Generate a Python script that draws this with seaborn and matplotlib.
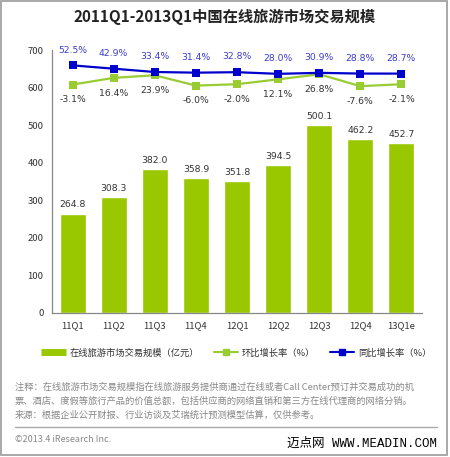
import numpy as np
import pandas as pd
import seaborn as sns
import matplotlib.pyplot as plt
from matplotlib.lines import Line2D
from matplotlib.patches import Rectangle

quarters = ['11Q1', '11Q2', '11Q3', '11Q4', '12Q1', '12Q2', '12Q3', '12Q4', '13Q1e']
market = [264.8, 308.3, 382.0, 358.9, 351.8, 394.5, 500.1, 462.2, 452.7]
qoq = [-3.1, 16.4, 23.9, -6.0, -2.0, 12.1, 26.8, -7.6, -2.1]
yoy = [52.5, 42.9, 33.4, 31.4, 32.8, 28.0, 30.9, 28.8, 28.7]

title = '2011Q1-2013Q1中国在线旅游市场交易规模'
legend_labels = ['在线旅游市场交易规模（亿元）', '环比增长率（%）', '同比增长率（%）']
notes = ['注释：在线旅游市场交易规模指在线旅游服务提供商通过在线或者Call Center预订并交易成功的机',
         '票、酒店、度假等旅行产品的价值总额，包括供应商的网络直销和第三方在线代理商的网络分销。',
         '来源：根据企业公开财报、行业访谈及艾瑞统计预测模型估算，仅供参考。']

sns.set_theme(style='white')
plt.rcParams['font.family'] = ['Noto Sans CJK SC', 'DejaVu Sans']

bar_green = '#99c800'
line_green = '#99cc33'
blue = '#0000cc'
label_blue = '#3c3cd0'
gray_txt = '#333333'

df = pd.DataFrame({'q': quarters, 'market': market, 'qoq': qoq, 'yoy': yoy})
df['pos'] = np.arange(len(df))

fig = plt.figure(figsize=(4.5, 4.57), dpi=100)
ax = fig.add_axes([52 / 450, 144 / 457, 370 / 450, 263 / 457])

sns.barplot(data=df, x='pos', y='market', color=bar_green, saturation=1,
            width=0.63, ax=ax, native_scale=True)
ax.bar_label(ax.containers[0], fmt='%.1f', padding=3, fontsize=6.7,
             color=gray_txt, family=['DejaVu Sans'])
ax.set_xlim(-0.5, len(df) - 0.5)
ax.set_ylim(0, 700)
ax.set_yticks(range(0, 701, 100))
ax.set_xticks(df['pos'])
ax.set_xticklabels(quarters)
ax.set_xlabel('')
ax.set_ylabel('')
ax.tick_params(axis='both', labelsize=6.8, colors=gray_txt, length=0, pad=6)
for s in ['top', 'right']:
    ax.spines[s].set_visible(False)
for s in ['left', 'bottom']:
    ax.spines[s].set_color('#888888')
    ax.spines[s].set_linewidth(0.9)

ax2 = ax.twinx()
sns.lineplot(data=df, x='pos', y='qoq', color=line_green, marker='s', markersize=6,
             markeredgewidth=0, linewidth=1.6, ax=ax2)
sns.lineplot(data=df, x='pos', y='yoy', color=blue, marker='s', markersize=6,
             markeredgewidth=0, linewidth=1.6, ax=ax2)
ax2.set_ylim(-664, 97)
ax2.set_xlim(-0.5, len(df) - 0.5)
ax2.axis('off')

for x, v in zip(df['pos'], yoy):
    ax2.annotate(f'{v:.1f}%', (x, v), xytext=(0, 11), textcoords='offset points',
                 ha='center', va='center', fontsize=6.7, color=label_blue, family=['DejaVu Sans'])
for x, v in zip(df['pos'], qoq):
    ax2.annotate(f'{v:.1f}%', (x, v), xytext=(0, -11), textcoords='offset points',
                 ha='center', va='center', fontsize=6.7, color=gray_txt, family=['DejaVu Sans'])

fig.text(0.5, 1 - 17 / 457, title, ha='center', va='center', fontsize=11,
         fontweight='bold', color='#222222')

handles = [Line2D([], [], color=bar_green, linewidth=5, solid_capstyle='butt'),
           Line2D([], [], color=line_green, marker='s', markersize=4, linewidth=1.5),
           Line2D([], [], color=blue, marker='s', markersize=4, linewidth=1.5)]
fig.legend(handles, legend_labels, loc='center', bbox_to_anchor=(0.525, 1 - 353 / 457),
           ncol=3, frameon=False, fontsize=6.7, handlelength=2.6, columnspacing=1.6,
           handletextpad=0.4, labelcolor=gray_txt)

for i, line in enumerate(notes):
    fig.text(15 / 450, 1 - (387 + 14 * i) / 457, line, ha='left', va='center',
             fontsize=6.7, color='#888888')

fig.add_artist(Line2D([15 / 450, 437 / 450], [1 - 427 / 457, 1 - 427 / 457],
                      color='#aaaaaa', linewidth=1, transform=fig.transFigure))
fig.text(15 / 450, 1 - 440 / 457, '©2013.4 iResearch Inc.', ha='left', va='center',
         fontsize=6.5, color='#888888')
fig.text(437 / 450, 1 - 444 / 457, '迈点网 WWW.MEADIN.COM', ha='right', va='center',
         fontsize=9, color='black', family=['Liberation Mono', 'Noto Sans CJK SC'])

fig.add_artist(Rectangle((1 / 450, 2 / 457), 446 / 450, 454 / 457, fill=False,
                         edgecolor='#999999', linewidth=1.2, transform=fig.transFigure))

fig.savefig('out.png', dpi=100)
